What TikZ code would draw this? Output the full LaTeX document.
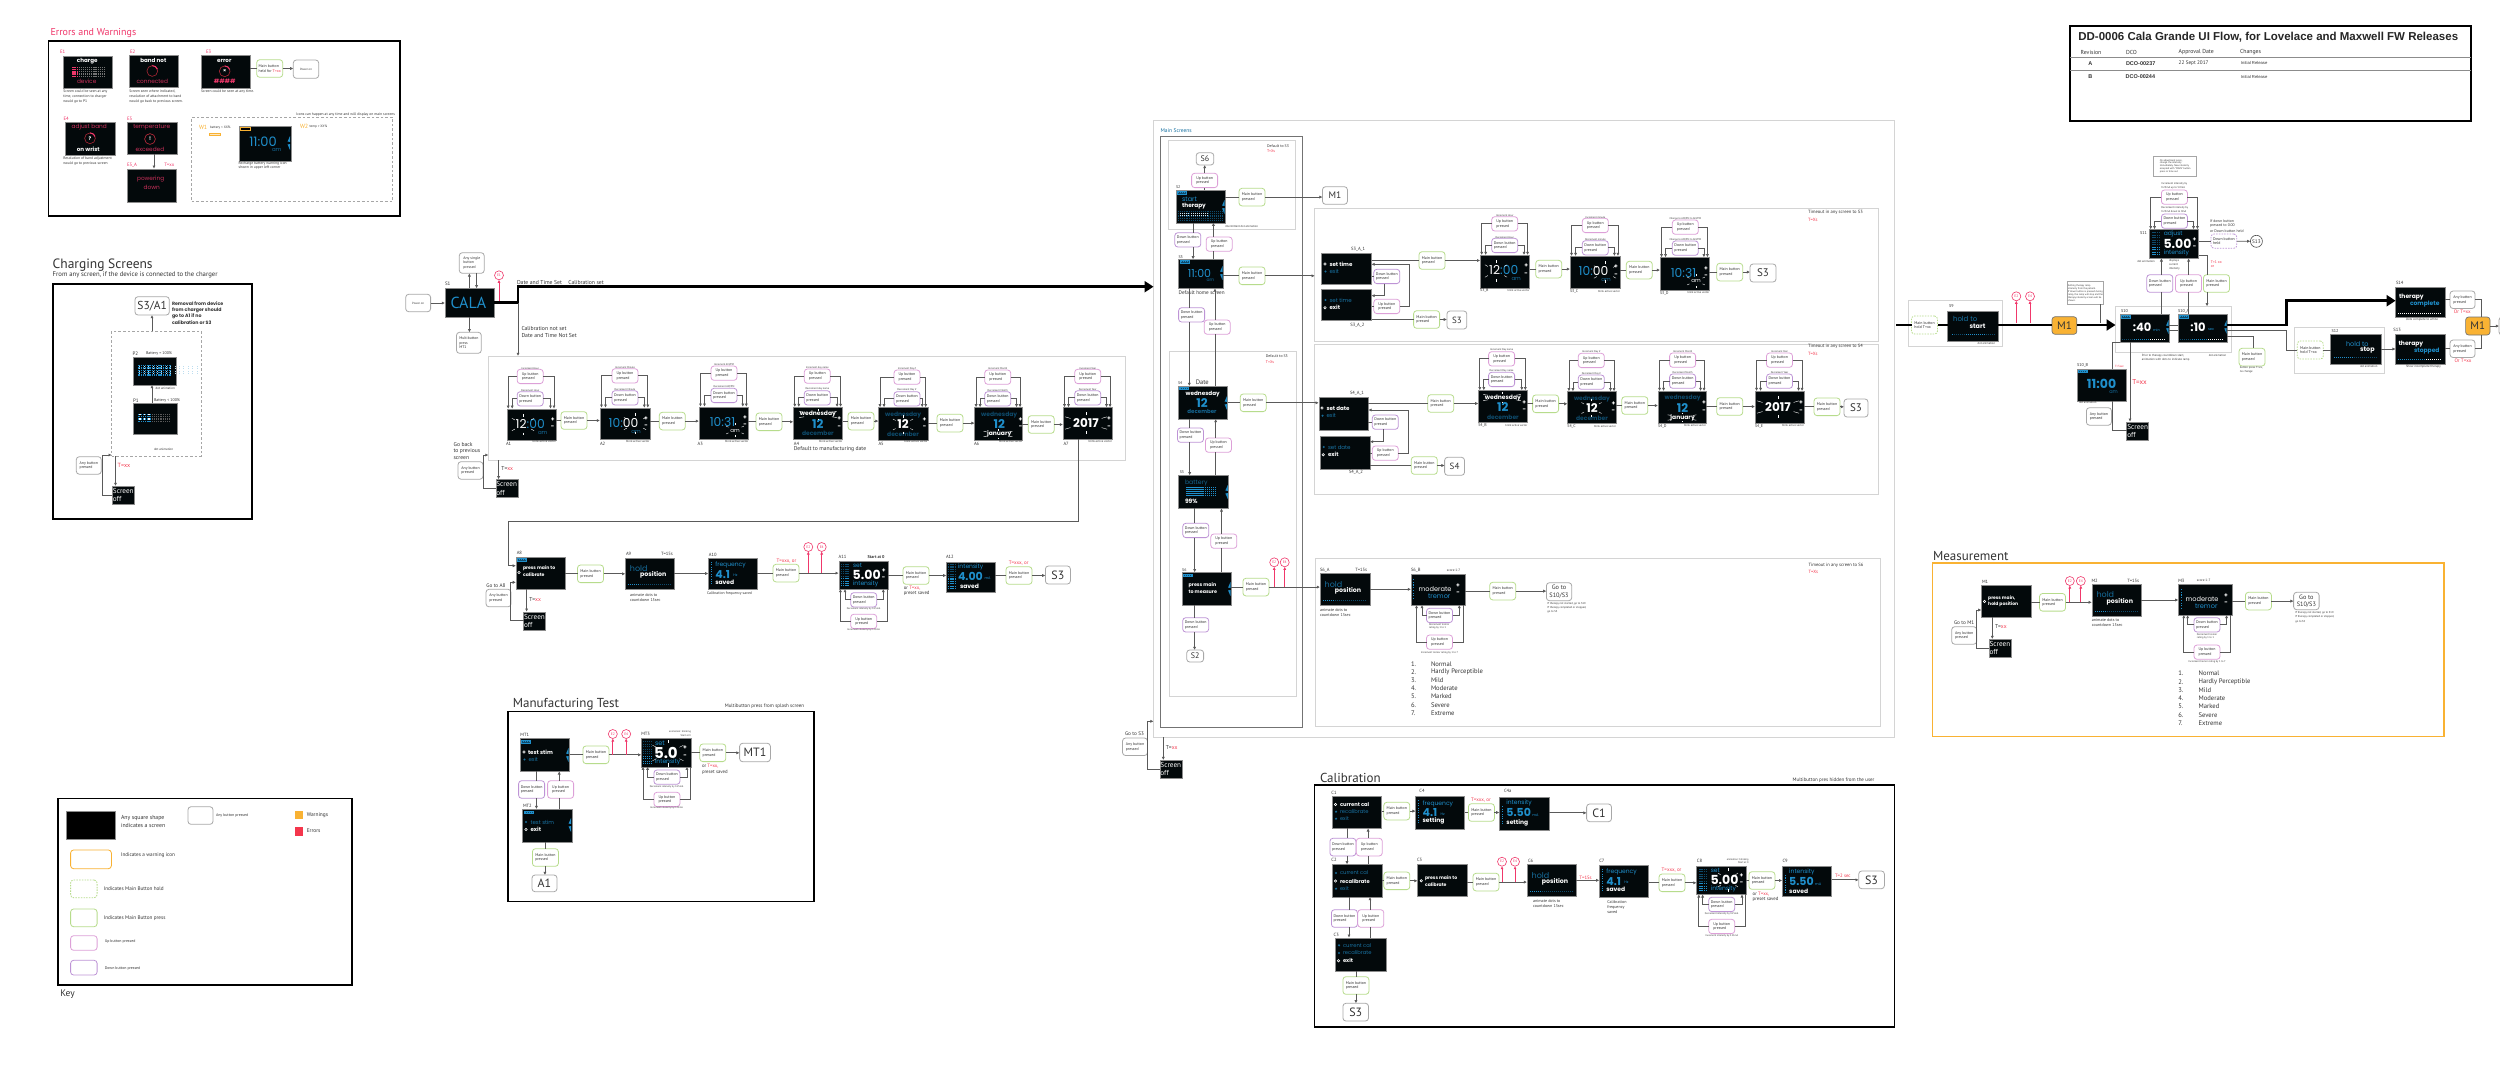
\documentclass[tikz,border=0pt]{standalone}
\usepackage{fontspec}
\setmainfont{PT Sans}
\newfontfamily\ppfam{Poppins}
\newfontfamily\arifam{Liberation Sans}
\usetikzlibrary{arrows.meta,calc}
\definecolor{cblue}{HTML}{1F8FCB}
\definecolor{cdim}{HTML}{0E4A6B}
\definecolor{cpink}{HTML}{F0386B}
\definecolor{cred}{HTML}{F4364C}
\definecolor{cgreen}{HTML}{B7DC8C}
\definecolor{cup}{HTML}{DDA0D8}
\definecolor{cdown}{HTML}{BE94D6}
\definecolor{cgrayb}{HTML}{A8A8A8}
\definecolor{corange}{HTML}{F9B233}
\definecolor{cscr}{HTML}{03090B}
\definecolor{ctext}{HTML}{333333}
\definecolor{cline}{HTML}{5A5A5A}
\newcounter{tn}
\newcommand\fsz[1]{\fontsize{#1}{#1}\selectfont\setlength\baselineskip{1.18\baselineskip}}
\tikzset{
 fs/.style={font={\fsz{#1}}},
 pp/.style={font={\ppfam\fsz{#1}}},
 ppb/.style={font={\ppfam\bfseries\fsz{#1}}},
 tx/.style={anchor=west,inner sep=0pt,outer sep=0pt,text=ctext,align=left},
 box/.style={inner sep=0pt,outer sep=0pt},
 scr/.style={box,draw=black!45,line width=.4,fill=cscr,text=white,align=left},
 btn/.style={box,rounded corners=3pt,fill=white,line width=.8,text=ctext,align=left,font={\fsz{3.9}}},
 mainb/.style={btn,draw=cgreen},
 holdb/.style={btn,draw=cgreen,dashed,dash pattern=on 1.5pt off 1.2pt},
 upb/.style={btn,draw=cup},
 dnb/.style={btn,draw=cdown},
 dnh/.style={btn,draw=cdown,dash pattern=on 1.5pt off 1.2pt},
 anyb/.style={btn,draw=cgrayb},
 gotob/.style={box,rounded corners=3pt,fill=white,draw=cgrayb,line width=.8,text=ctext,align=center},
 warnb/.style={box,rounded corners=3pt,fill=corange,draw=black!55,line width=.7,text=black!80,font={\fsz{11}}},
 ecirc/.style={circle,minimum size=9pt,box,draw=cpink,line width=.6,fill=white,text=cpink,font={\fsz{3.6}}},
 panel/.style={box,draw=black,line width=1.6},
 lbox/.style={box,draw=black!17,line width=.8},
 mbox/.style={box,draw=black!55,line width=.9},
 dbox/.style={box,draw=black!35,line width=.6,dash pattern=on 2.6pt off 2pt},
 note/.style={box,draw=black!35,line width=.5,fill=white,text=ctext,align=left,font={\fsz{2.5}}},
 conn/.style={draw=cline,line width=.75},
 ar/.style={-{Latex[length=3.2pt,width=3.2pt]},draw=cline},
 pk/.style={draw=cpink,line width=.7,-{Latex[length=3pt,width=3pt]}},
 tl/.style={draw=black,line width=2.7},
 tar/.style={-{Triangle[length=9pt,width=11pt]}},
}
\newcommand\Tx[4][]{\stepcounter{tn}\node[tx,#1] (t\arabic{tn}) at (#2,#3) {#4};}
\newcommand\NdW[7]{\node[#1,anchor=north west,minimum width=#5pt,minimum height=#6pt] (#2) at (#3,#4) {#7};}
\newcommand\Nd[7]{\pgfmathsetmacro\bw{#5-#3}\pgfmathsetmacro\bh{#6-#4}\NdW{#1}{#2}{#3}{#4}{\bw}{\bh}{#7}}
\newcommand\Sc[5]{\Nd{scr}{#1}{#2}{#3}{#4}{#5}{}}
\newcommand\MB[3]{\NdW{mainb}{#1}{#2}{#3}{26}{17.6}{Main button\\pressed}}
\newcommand\UB[3]{\NdW{upb}{#1}{#2}{#3}{26}{14.3}{Up button\\pressed}}
\newcommand\DB[3]{\NdW{dnb}{#1}{#2}{#3}{26}{14.3}{Down button\\pressed}}
\newcommand\UBt[3]{\NdW{upb}{#1}{#2}{#3}{26}{17.6}{Up button\\pressed}}
\newcommand\DBt[3]{\NdW{dnb}{#1}{#2}{#3}{26}{17.6}{Down button\\pressed}}
\newcommand\AB[3]{\NdW{anyb}{#1}{#2}{#3}{25}{17.5}{Any button\\pressed}}
\newcommand\GT[7]{\Nd{gotob,fs=#7}{#1}{#2}{#3}{#4}{#5}{#6}}
\newcommand\Off[3]{\NdW{scr,font={\fsz{7.2}}}{#1}{#2}{#3}{22}{18.3}{Screen\\off}}
\newcommand\EC[4]{\node[ecirc] (#1) at (#2,#3) {#4};}
\newcommand\Flow[3]{\draw[conn] (#1.east |- #2.west) -- (#2.west);\draw[conn,ar] (#2.east) -- (#3.west |- #2.east);}
\newcommand\Vd[3]{\draw[conn,ar] (#3,0 |- #1.south) -- (#3,0 |- #2.north);}
\newcommand\Vu[3]{\draw[conn,ar] (#3,0 |- #1.north) -- (#3,0 |- #2.south);}
\newcommand\VdB[4]{\draw[conn] (#4,0 |- #1.south) -- (#4,0 |- #2.north);\draw[conn,ar] (#4,0 |- #2.south) -- (#4,0 |- #3.north);}
\newcommand\VuB[4]{\draw[conn] (#4,0 |- #1.north) -- (#4,0 |- #2.south);\draw[conn,ar] (#4,0 |- #2.north) -- (#4,0 |- #3.south);}
\newcommand\UDAbove[3]{%
 \draw[conn,ar] (#2.west) -| ($(#1.north west)+(1.5,0)$);
 \draw[conn,ar] (#2.east) -| ($(#1.north east)+(-2,0)$);
 \draw[conn,ar] (#3.west) -| ($(#1.north west)+(5.5,0)$);
 \draw[conn,ar] (#3.east) -| ($(#1.north east)+(-5.5,0)$);}
\newcommand\UD[6]{\UB{#1U}{#2}{#3}\DB{#1D}{#2}{#4}\UDAbove{#1}{#1U}{#1D}%
 \Tx[fs=2.6,anchor=south]{#2+13}{#3-.2}{#5}\Tx[fs=2.6,anchor=south]{#2+13}{#4-.2}{#6}}
\newcommand\Below[7]{%
 \draw[conn,ar] (#3.west) -| (#4,0 |- #1.south);
 \draw[conn,ar] (#3.east) -| (#5,0 |- #1.south);
 \draw[conn,ar] (#2.west) -| (#6,0 |- #1.south);
 \draw[conn] (#2.east) -| (#7,0 |- #1.south);}
\newcommand\BackLoop[4]{\draw[conn,ar] (#1.west) -| (#2,#3) -- (#4.west |- #2,#3);}
\newcommand\DotGrid[8]{\foreach \i in {1,...,#3}{\foreach \j in {1,...,#4}{\fill[#7] ({#1+(\i-1)*#5},{#2+(\j-1)*#6}) rectangle ++(#8,#8);}}}
\newcommand\Blink[4]{\foreach \a in {35,90,145,215,270,325}{\draw[white,line width=.4] ({#1+#3*cos(\a)},{#2+#4*sin(\a)}) -- ({#1+1.35*#3*cos(\a)},{#2+1.35*#4*sin(\a)});}}
\newcommand\Bat[2]{\draw[cblue,fill=cdim,line width=.3] (#1,#2-1.2) rectangle (#1+9,#2+1.2);\DotGrid{#1+1}{#2-.5}{4}{1}{2}{1}{cblue}{1}}
\newcommand\Sel[2]{\draw[white,fill=cscr,line width=.6] (#1,#2) circle (1.2);}
\newcommand\Bld[2]{\fill[cblue!75!black] (#1,#2) circle (1.2);}
\newcommand\Wdg[2]{\fill[cblue] (#1,#2-1) -- (#1,#2-7) -- (#1-2.4,#2-1.5) -- cycle;\fill[cblue] (#1,#2+1) -- (#1,#2+7) -- (#1-2.4,#2+1.5) -- cycle;}
\newcommand\PM[2]{\Tx[ppb=6,anchor=center,text=white]{#1}{#2-4}{+}\Tx[ppb=6,anchor=center,text=white]{#1}{#2+4}{-}}
\newcommand\TimeC[4]{\Tx[pp=12.3,anchor=center,text=white]{#1+23.5}{#2+15.5}{#3}\Tx[pp=5.5,anchor=center,text=#4]{#1+36}{#2+24}{am}\PM{#1+46}{#2+15}}
\newcommand\DateC[7]{\Tx[ppb=6,anchor=center,text=#3]{#1+24.6}{#2+7.5}{#4}\Tx[ppb=12,anchor=center,text=#5]{#1+24.6}{#2+17}{12}\Tx[ppb=6,anchor=center,text=#6]{#1+24.6}{#2+26.5}{#7}\PM{#1+46}{#2+16}}
\newcommand\HoldBar[3]{\DotGrid{#1}{#2}{22}{1}{2}{1}{cdim}{1.1}\DotGrid{#1}{#2}{#3}{1}{2}{1}{cblue}{1.1}}
\newcommand\HoldC[2]{\Tx[pp=8,anchor=center,text=cdim!50!cblue]{#1+13.5}{#2+11}{hold}\Tx[ppb=6.3,anchor=center,text=white]{#1+28}{#2+17.6}{position}\HoldBar{#1+3}{#2+26.5}{6}}
\newcommand\FreqC[3]{\DotGrid{#1+2.5}{#2+4}{1}{10}{1}{2.4}{cblue}{1.1}\Tx[pp=6,text=cblue]{#1+7}{#2+7.3}{frequency}\Tx[ppb=11,text=cblue]{#1+7}{#2+16.6}{4.1}\Tx[pp=3.6,text=cblue]{#1+25}{#2+18}{Hz}\Tx[ppb=6,text=white]{#1+7}{#2+25}{#3}}
\newcommand\IntC[5]{\DotGrid{#1+2.5}{#2+9}{1}{8}{1}{2.4}{cblue}{1.1}\Tx[pp=6,text=cblue]{#1+#3}{#2+6}{intensity}\Tx[ppb=11,text=cblue]{#1+#3}{#2+15.5}{#4}\Tx[pp=3.6,text=cblue]{#1+#3+26}{#2+18}{mA}\Tx[ppb=6,text=white]{#1+#3}{#2+25.5}{#5}}
\newcommand\SetC[4]{\DotGrid{#1+2}{#2+3}{5}{10}{1.9}{2.4}{cdim}{1.1}\DotGrid{#1+2}{#2+17.4}{5}{4}{1.9}{2.4}{cblue}{1.1}\Tx[pp=6,text=cblue]{#1+14.3}{#2+4.5}{#4}\Tx[ppb=12.5,text=white]{#1+14}{#2+14.3}{#3}\Tx[pp=6,text=cblue]{#1+14.3}{#2+23.7}{intensity}\PM{#1+45}{#2+14}}
\newcommand\Lst[5]{\Tx[fs=6.6]{#1}{#3}{#4}\Tx[fs=6.6]{#2}{#3}{#5}}
\newcommand\Ring[2]{\draw[cred!70!black,line width=.6] (#1,#2) circle (5.4);\draw[cpink,line width=1] ({#1+5.4*cos(-20)},{#2+5.4*sin(-20)}) arc (-20:-90:5.4);}

\begin{document}
\begin{tikzpicture}[x=1pt,y=-1pt]
\useasboundingbox (0,0) rectangle (2500,1072);
\fill[white] (0,0) rectangle (2500,1072);

%% ============ Errors and warnings
\Tx[fs=10,text=cpink]{50.5}{33}{Errors and Warnings}
\Nd{panel}{pErr}{48.3}{41}{400}{216}{}
\Tx[fs=4.8,text=cpink]{60}{52}{E1}
\Sc{E1}{63.3}{55.7}{112.3}{88}
\Tx[ppb=5.6,anchor=center,text=white]{87.3}{61}{charge}
\DotGrid{72.3}{66.7}{16}{5}{2.1}{2.2}{black!55}{1.2}
\DotGrid{72.3}{66.7}{3}{5}{2.1}{2.2}{cpink}{1.5}
\Tx[pp=5.8,anchor=center,text=cpink!85!black]{86.7}{81.7}{device}
\Tx[fs=3.7]{63.3}{91.7}{Screen could be seen at any}
\Tx[fs=3.7]{63.3}{97}{time, connection to charger}
\Tx[fs=3.7]{63.3}{102}{would go to P1}

\Tx[fs=4.8,text=cpink]{130}{52}{E2}
\Sc{E2}{129.3}{54.7}{178.3}{87.3}
\Tx[ppb=5.6,anchor=center,text=white]{153.3}{60}{band not}
\Ring{152.3}{71}
\Tx[pp=5.8,anchor=center,text=cpink!85!black]{152.3}{81.3}{connected}
\Tx[fs=3.7]{129.3}{91}{Screen seen where indicated,}
\Tx[fs=3.7]{129.3}{96}{resolution of attachment to band}
\Tx[fs=3.7]{129.3}{101.3}{would go back to previous screen.}

\Tx[fs=4.8,text=cpink]{206}{52}{E3}
\Sc{E3}{201}{55}{250.3}{87.7}
\Tx[ppb=5.6,anchor=center,text=white]{224.3}{61.3}{error}
\Ring{224.7}{71.3}
\Tx[ppb=5,anchor=center,text=white]{224.7}{71.3}{×}
\Tx[ppb=6,anchor=center,text=cpink]{224.7}{81.3}{\#\#\#\#}
\Tx[fs=3.7]{201}{91.3}{Screen could be seen at any time.}
\NdW{mainb}{E3b}{256.7}{59.7}{26}{17.6}{Main button\\held for \textcolor{cred}{T=xx}}
\Nd{anyb,fs=3}{E3p}{293.3}{60}{318.7}{78.3}{Power on}
\Flow{E3}{E3b}{E3p}

\Tx[fs=4.8,text=cpink]{63.5}{119}{E4}
\Sc{E4}{65.3}{121.7}{114.7}{154.7}
\Tx[pp=5.8,anchor=center,text=cpink!85!black]{89.3}{127}{adjust band}
\Ring{90}{138.3}
\Tx[ppb=5,anchor=center,text=white]{90}{138.3}{?}
\Tx[ppb=5.6,anchor=center,text=white]{88.3}{149.3}{on wrist}
\Tx[fs=3.7]{63.3}{158.7}{Resolution of band adjustment}
\Tx[fs=3.7]{63.3}{163.7}{would go to previous screen}

\Tx[fs=4.8,text=cpink]{127}{119}{E5}
\Sc{E5}{127}{121.7}{176.7}{154.3}
\Tx[pp=5.8,anchor=center,text=cpink!85!black]{151.7}{127.3}{temperature}
\draw[cred!80!black,line width=.6] (150,139) circle (5.4);
\Tx[ppb=5,anchor=center,text=white]{150}{139}{!}
\Tx[pp=5.8,anchor=center,text=cpink!85!black]{150}{149}{exceeded}
\Tx[fs=4.8,text=cpink]{127}{165.3}{E5\_A}
\Tx[fs=4.8,text=cpink]{164.3}{165.3}{T=xx}
\Sc{E5A}{126.7}{168.7}{176.3}{201.7}
\Tx[pp=5.8,anchor=center,text=cpink!85!black]{150.7}{179.3}{powering}
\Tx[pp=5.8,anchor=center,text=cpink!85!black]{151.7}{187.3}{down}
\Vd{E5}{E5A}{154}

\Nd{dbox}{dW}{191.7}{117.3}{392.7}{201.3}{}
\Tx[fs=3.7,anchor=east]{395}{114.3}{Icons can happen at any time and will display on main screens}
\Tx[fs=6,text=corange]{199}{127.7}{W1}
\Tx[fs=3.4]{210}{127.7}{battery < XX\%}
\draw[corange,fill=corange!30,line width=.4] (209,132.7) rectangle (220,135.3);
\Sc{W}{238.7}{125.7}{290.7}{160.7}
\draw[corange,fill=black,line width=.5] (240.5,127.5) rectangle (250.5,130);
\Tx[pp=13,anchor=center,text=cblue]{263}{141.5}{11:00}
\Tx[pp=5.5,anchor=center,text=cdim!50!cblue]{276.7}{150}{am}
\Wdg{290}{143}
\Tx[fs=3.7]{238.7}{163.3}{Recharge battery warning icon}
\Tx[fs=3.7]{238.7}{168}{shown in upper left corner}
\Tx[fs=6,text=corange]{300}{126.7}{W2}
\Tx[fs=3.4]{309.5}{127}{temp > XX\%}

%% ============ Charging
\Tx[fs=13.5]{52.7}{265}{Charging Screens}
\Tx[fs=6.7]{52.7}{275.3}{From any screen, if the device is connected to the charger}
\Nd{panel}{pCh}{52.7}{284}{251.7}{518.7}{}
\GT{CHg}{135}{296.7}{169.3}{315}{S3/A1}{11.5}
\Tx[ppb=4.7]{172}{303.3}{Removal from device}
\Tx[ppb=4.7]{172}{310}{from charger should}
\Tx[ppb=4.7]{172}{316.3}{go to A1 if no}
\Tx[ppb=4.7]{172}{322.7}{calibration or S3}
\Nd{dbox}{dCh}{111.7}{331}{201}{456}{}
\Vu{dCh}{CHg}{152}
\Tx[fs=5]{132.7}{353.3}{P2}
\Tx[fs=4]{146}{353.7}{Battery = 100\%}
\Sc{P2}{132.7}{356.7}{175.7}{385}
\DotGrid{138.3}{365}{15}{5}{2.2}{2.3}{cblue}{1.4}
\DotGrid{139.4}{366}{14}{4}{4.4}{2.3}{white!70!cblue}{.8}
\Tx[fs=3.2]{155.7}{388}{dot animation}
\Tx[fs=5]{133}{400.3}{P1}
\Tx[fs=4]{154}{400.7}{Battery < 100\%}
\Sc{P1}{132.7}{403.3}{177}{434.3}
\DotGrid{138.3}{413.7}{15}{4}{2.2}{2.3}{black!65}{1.2}
\DotGrid{138.3}{413.7}{6}{4}{2.2}{2.3}{cblue}{1.4}
\DotGrid{139.4}{413.7}{3}{2}{4.4}{4.6}{white}{1.4}
\Vu{P1}{P2}{152}
\Tx[fs=3.2]{154}{449.7}{dot animation}
\AB{CHa}{76.3}{456.7}
\Off{CHo}{112.3}{486}
\Tx[fs=6,text=cred]{117.7}{465.3}{T=xx}
\draw[conn,ar] (115.5,0 |- dCh.south) -- (115.5,0 |- CHo.north);
\BackLoop{CHo}{102}{455}{dCh}

%% ============ Splash
\Nd{anyb,fs=3}{PO}{405.7}{294.3}{430.6}{311.7}{Power on}
\Tx[fs=5]{445}{284}{S1}
\Sc{S1}{445}{288.3}{494.3}{317.3}
\Tx[fs=16,anchor=center,text=cblue]{468.4}{303.3}{CALA}
\draw[conn,ar] (PO.east) -- (S1.west |- PO.east);
\Nd{anyb,font={\fsz{3.8}}}{Sany}{459.3}{252.7}{484.2}{273.3}{Any single\\button\\pressed}
\Nd{anyb,font={\fsz{3.8}}}{Smul}{456.5}{332.3}{481.3}{353.3}{Multibutton\\press\\MT1}
\Vu{S1}{Sany}{469.4}
\Vd{Sany}{S1}{476.6}
\Vd{S1}{Smul}{469.4}
\EC{SE1}{499}{275.3}{E1}
\draw[pk] (499,0 |- S1.east) -- (SE1.south);
\Nd{lbox}{bA}{488.5}{356}{1125.8}{460.3}{}
\Tx[fs=5.7]{517}{282}{Date and Time Set}
\Tx[fs=5.7]{568.4}{282.7}{Calibration set}
\Tx[fs=5.7]{521.5}{328.7}{Calibration not set}
\Tx[fs=5.7]{521.5}{335.7}{Date and Time Not Set}

%% A row
\Sc{A1}{506.7}{408.7}{556}{440.3}
\TimeC{506.7}{408.7}{\textcolor{white}{12}\textcolor{cblue}{:00}}{cdim!50!cblue}\Blink{523}{424.5}{10}{8}
\Sc{A2}{600}{407.7}{649.8}{439.3}
\TimeC{600}{407.7}{\textcolor{cblue}{10:}\textcolor{white}{00}}{cdim!50!cblue}\Blink{635}{423.5}{10}{8}
\Sc{A3}{699}{406.7}{748.3}{439.3}
\TimeC{699}{406.7}{\textcolor{cblue}{10:31}}{white}\Blink{735}{430}{8}{5}
\Sc{A4}{793.3}{407}{842.6}{439.3}
\DateC{793.3}{407}{white}{wednesday}{cblue}{cdim}{december}\Blink{818}{414.5}{17}{4}
\Sc{A5}{878.5}{407.3}{927.7}{439.7}
\DateC{878.5}{407.3}{cdim}{wednesday}{white}{cdim}{december}\Blink{903}{424.5}{9}{7}
\Sc{A6}{974.6}{407.3}{1022}{439.7}
\DateC{974.6}{407.3}{cdim}{wednesday}{cblue}{white}{january}\Blink{998}{434}{13}{3.5}
\Sc{A7}{1063}{407.3}{1112}{439.3}
\Tx[ppb=12,anchor=center,text=white]{1086}{423}{2017}\PM{1109}{423}\Blink{1086}{423}{19}{8}
\Tx[fs=4.6]{506}{444.3}{A1}\Tx[fs=4.6]{600}{444.3}{A2}\Tx[fs=4.6]{697.6}{444.3}{A3}\Tx[fs=4.6]{793.8}{444.3}{A4}\Tx[fs=4.6]{878.5}{444.3}{A5}\Tx[fs=4.6]{974}{444.3}{A6}\Tx[fs=4.6]{1063.5}{444.3}{A7}
\Tx[fs=3,anchor=east]{556}{441.7}{blink active vector}\Tx[fs=3,anchor=east]{649.5}{441.7}{blink active vector}\Tx[fs=3,anchor=east]{748.5}{441.7}{blink active vector}\Tx[fs=3,anchor=east]{842.5}{441.7}{blink active vector}\Tx[fs=3,anchor=east]{927.7}{441.7}{blink active vector}\Tx[fs=3,anchor=east]{1022.5}{441.7}{blink active vector}\Tx[fs=3,anchor=east]{1112}{441.7}{blink active vector}
\UD{A1}{517.2}{369.3}{391.7}{Increment Hour}{Decrement Hour}
\UD{A2}{612}{368.7}{390.7}{Increment Minute}{Decrement Minute}
\UD{A3}{711}{366}{388.3}{Increment AM/PM}{Decrement AM/PM}
\UD{A4}{804.3}{369}{390.7}{Increment day name}{Decrement day name}
\UD{A5}{894}{370}{391.7}{Increment Day \#}{Decrement Day \#}
\UD{A6}{984.7}{370}{391.7}{Increment Month}{Decrement Month}
\UD{A7}{1074.7}{369.3}{390.7}{Increment Year}{Decrement Year}
\MB{Ab1}{561}{411.7}\MB{Ab2}{659.3}{412.3}\MB{Ab3}{756}{413}\MB{Ab4}{848}{412.3}\MB{Ab5}{937}{414.3}\MB{Ab6}{1028.2}{415.7}
\Flow{A1}{Ab1}{A2}\Flow{A2}{Ab2}{A3}\Flow{A3}{Ab3}{A4}\Flow{A4}{Ab4}{A5}\Flow{A5}{Ab5}{A6}\Flow{A6}{Ab6}{A7}
\Tx[fs=5.6]{793.8}{448.7}{Default to manufacturing date}
\Tx[fs=5.6]{453.6}{444.3}{Go back}\Tx[fs=5.6]{453.6}{451.3}{to previous}\Tx[fs=5.6]{453.6}{458.3}{screen}
\AB{Aa}{458}{461.7}
\Tx[fs=5.6]{501.4}{468.3}{T=\textcolor{cred}{xx}}
\Off{Ao}{495.7}{479.3}
\draw[conn,ar] (498.6,0 |- bA.south) -- (498.6,0 |- Ao.north);
\BackLoop{Ao}{483.7}{455}{bA}

%% A8 row
\Tx[fs=4.6]{516.8}{553.3}{A8}
\Sc{A8}{515.9}{557.3}{565.4}{588.7}
\Bat{517.5}{576.5-17}\Sel{519}{572.5}
\Tx[ppb=4.6,text=white]{523}{568.7}{press main to}\Tx[ppb=4.6,text=white]{523}{574.7}{calibrate}
\draw[conn,ar] (A7.south -| 1078,0) -- (1078,521.3) -- (507.9,521.3) |- (A8.west |- 0,565.7);
\MB{A8b}{577.5}{565}
\Tx[fs=4.6]{626}{554}{A9}\Tx[fs=4.6]{661}{554}{T=15s}
\Sc{A9}{625.3}{557.7}{674.4}{589.3}\HoldC{625.3}{557.7}
\Flow{A8}{A8b}{A9}
\Tx[fs=4.1]{630}{594.7}{animate dots to}\Tx[fs=4.1]{630}{600}{countdown 15sec}
\Tx[fs=4.6]{708.8}{554.7}{A10}
\Sc{A10}{708.3}{557.7}{757.4}{589.3}\FreqC{708.3}{557.7}{saved}
\draw[conn,ar] (A9.east) -- (A10.west);
\Tx[fs=3.8]{707}{593.3}{Calibration frequency saved}
\Tx[fs=5,text=cred]{776.6}{560.7}{T=xxx, or}
\MB{A10b}{773}{564.3}
\draw[conn] (A10.east |- A10b.west) -- (A10b.west);
\Tx[fs=4.6]{838.7}{556.7}{A11}\Tx[fs=4.2,font={\bfseries\fsz{4.2}}]{867.7}{557}{Start at 0}
\Sc{A11}{838.7}{560.7}{887.8}{589}\SetC{838.7}{560.7}{5.00}{set}
\draw[conn,ar] (A10b.east) -- (A11.west |- A10b.east);
\EC{A10e2}{808.3}{547}{E2}\EC{A10e4}{821.7}{547}{E4}
\draw[pk] (808.3,0 |- A10b.east) -- (A10e2.south);\draw[pk] (821.7,0 |- A10b.east) -- (A10e4.south);
\DB{A11d}{850.7}{592.7}\UB{A11u}{850.7}{614.3}
\Below{A11}{A11u}{A11d}{845}{883.3}{840.4}{887.8}
\Tx[fs=2.5,anchor=center]{863.5}{608.7}{Decrement intensity by 0.25mA}
\Tx[fs=2.5,anchor=center]{863.5}{630.3}{Increment intensity by 0.25mA}
\MB{A11b}{903}{566.7}
\Tx[fs=4.8]{903.8}{587.7}{or \textcolor{cred}{T=xx,}}\Tx[fs=4.8]{903.8}{593.7}{preset saved}
\Tx[fs=4.6]{946}{557.3}{A12}
\Sc{A12}{946.3}{561.7}{995.4}{591.7}
\DotGrid{947.6}{564}{5}{11}{1.9}{2.4}{cdim}{1.1}\DotGrid{947.6}{578.4}{5}{5}{1.9}{2.4}{cblue}{1.1}
\Tx[pp=6,text=cblue]{958}{566.7}{intensity}\Tx[ppb=11,text=cblue]{958}{576}{4.00}\Tx[pp=3.6,text=cblue]{984.5}{578}{mA}\Tx[ppb=6,text=white]{960}{586}{saved}
\Flow{A11}{A11b}{A12}
\Tx[fs=5,text=cred]{1008.8}{562.7}{T=xxx, or}
\MB{A12b}{1006}{566.7}
\GT{A12g}{1045.4}{566}{1070.4}{584}{S3}{12}
\Flow{A12}{A12b}{A12g}
\Tx[fs=5.2]{486.4}{585.7}{Go to A8}
\AB{A8a}{486}{589.3}
\Tx[fs=5.6]{529.3}{599.3}{T=\textcolor{cred}{xx}}
\Off{A8o}{523.5}{611.7}
\Vd{A8}{A8o}{526.6}
\BackLoop{A8o}{510.5}{582.3}{A8}

%% ============ Manufacturing test
\Tx[fs=13]{512.8}{704}{Manufacturing Test}
\Tx[fs=5]{724.8}{706.3}{Multibutton press from splash screen}
\Nd{panel}{pMT}{507.9}{711.3}{814}{901.3}{}
\Tx[fs=4.6]{520.4}{735.3}{MT1}
\Sc{MT1}{520}{738.3}{569.5}{771.3}
\Bat{521.5}{741.5}\Sel{524}{752}\Tx[ppb=5.5,text=white]{528}{752.3}{test stim}\Bld{524.5}{759.5}\Tx[pp=5.5,text=cblue!80!black]{528.5}{759.5}{exit}\Wdg{568.5}{755}
\MB{MT1b}{582.9}{746}
\Tx[fs=4.6]{641.3}{734}{MT3}
\Tx[fs=2.6,anchor=east]{690.9}{732}{animation: blinking}\Tx[fs=2.6,anchor=east]{690.9}{736}{Start at 0}
\Sc{MT3}{641.3}{738.3}{690.9}{766.7}\DotGrid{643.3}{741.3}{5}{10}{1.9}{2.4}{cdim}{1.1}\DotGrid{643.3}{755.7}{5}{4}{1.9}{2.4}{cblue}{1.1}
\Tx[pp=6.5,text=cblue]{655}{743}{set}\Tx[ppb=15,text=white]{654}{753}{5.0}\Tx[pp=6,text=cblue]{655}{762}{intensity}\PM{685}{752}\Blink{668}{753}{14}{10}
\Flow{MT1}{MT1b}{MT3}
\EC{MTe2}{612.8}{734}{E2}\EC{MTe4}{626.2}{734}{E4}
\draw[pk] (612.8,0 |- MT1b.east) -- (MTe2.south);\draw[pk] (626.2,0 |- MT1b.east) -- (MTe4.south);
\MB{MT3b}{699.8}{744}
\GT{MT1g}{739.6}{743.3}{770.4}{761.7}{MT1}{12}
\Flow{MT3}{MT3b}{MT1g}
\Tx[fs=4.8]{702}{766.3}{or \textcolor{cred}{T=xx,}}\Tx[fs=4.8]{702}{772.3}{preset saved}
\DB{MT3d}{653.9}{770}\UB{MT3u}{653.9}{792.3}
\Below{MT3}{MT3u}{MT3d}{647.6}{686.9}{643.1}{690}
\Tx[fs=2.5,anchor=center]{666.5}{786.7}{Decrement intensity by 0.25mA}
\Tx[fs=2.5,anchor=center]{666.5}{808.3}{Increment intensity by 0.25mA}
\DBt{MTd}{518.6}{780.7}\UBt{MTu}{547.6}{780.7}
\Tx[fs=4.6]{523}{806}{MT2}
\Sc{MT2}{522.6}{809}{572}{841.7}
\Bat{524}{812}\Bld{526}{822}\Tx[pp=5.5,text=cblue!80!black]{530.5}{822}{test stim}\Sel{526}{829.5}\Tx[ppb=5.5,text=white]{530.5}{829.5}{exit}\Wdg{571}{825}
\VdB{MT1}{MTd}{MT2}{536.4}
\VuB{MT2}{MTu}{MT1}{559.2}
\MB{MT2b}{532.4}{848.7}
\GT{A1g}{532}{875}{557}{891.7}{A1}{12}
\VdB{MT2}{MT2b}{A1g}{544.9}

%% ============ Main screens
\Nd{lbox}{MS}{1153.5}{120}{1894.6}{737}{}
\draw[tl,tar] (S1.east) -| (518,286.7) -- (MS.west |- 518,286.7);
\draw[conn,ar] (518,0 |- S1.east) -- (518,0 |- bA.north);
\Tx[fs=5.5,text=cblue!80!black]{1160.6}{130.3}{Main Screens}
\Nd{mbox}{MC}{1160.6}{136}{1302.2}{727}{}
\Nd{lbox}{Bs2}{1168.3}{140.7}{1295.7}{229.3}{}
\Tx[fs=3.9]{1267}{145.7}{Default to S3}\Tx[fs=3.9,text=cred]{1267}{151}{T=Xs}
\GT{S6g}{1196.2}{152.7}{1213.8}{165}{S6}{8}
\UB{S2u}{1191.6}{173.3}
\Tx[fs=4]{1176}{187.3}{S2}
\Sc{S2}{1176}{190}{1225.3}{222.7}\Bat{1177}{192.5}
\Tx[pp=6.5,text=cblue]{1182}{199.5}{start}\Tx[ppb=5.8,text=white]{1182}{206.3}{therapy}\Wdg{1224.5}{207}
\DotGrid{1178}{211}{22}{5}{2.1}{2.2}{cdim}{1.1}\DotGrid{1180}{213}{14}{2}{2.1}{2.2}{white!80!cblue}{.9}
\VuB{S2}{S2u}{S6g}{1204.7}
\MB{S2b}{1239}{188.3}
\GT{M1g}{1322.5}{186.7}{1347.4}{204.3}{M1}{9.5}
\Flow{S2}{S2b}{M1g}
\Tx[fs=2.9]{1225}{226}{intermittent dot animation}
\DB{S2d}{1174.8}{232.7}\UB{S3u}{1206.2}{237}
\Tx[fs=4]{1178.6}{256.7}{S3}
\Sc{S3}{1178.6}{259.3}{1223}{288.3}\Bat{1180}{261.5}
\Tx[pp=11,anchor=center,text=cblue]{1199.5}{273.5}{11:00}\Tx[pp=4.5,anchor=center,text=cdim!50!cblue]{1210.5}{280.5}{am}\Wdg{1222.5}{273}
\VdB{S2}{S2d}{S3}{1193.1}
\VuB{S3}{S3u}{S2}{1213.4}
\Tx[fs=5.2]{1178.6}{292.3}{Default home screen}
\MB{S3b}{1239}{267}
\Nd{lbox}{Bs3}{1314.8}{208.3}{1878}{341}{}
\draw[conn] (S3.east |- S3b.west) -- (S3b.west);
\draw[conn,ar] (S3b.east) -- (Bs3.west |- S3b.east);
\DB{S3d}{1178.6}{307.7}\UB{S4u}{1204.2}{320}
\Nd{lbox}{Bs4}{1169.4}{351.7}{1296.6}{696.7}{}
\Tx[fs=3.9]{1265.9}{356.3}{Default to S3}\Tx[fs=3.9,text=cred]{1265.9}{361.7}{T=Xs}
\Tx[fs=4]{1178}{383.3}{S4}\Tx[fs=6.5]{1195.8}{382.3}{Date}
\Sc{S4}{1177.8}{386}{1227.6}{419}\Bat{1179}{388.3}
\Tx[ppb=5.7,anchor=center,text=white]{1202.7}{394}{wednesday}\Tx[ppb=12,anchor=center,text=cblue]{1202}{403.5}{12}\Tx[ppb=5.5,anchor=center,text=cdim!60!cblue]{1202}{411.5}{december}\Wdg{1227}{403}
\VdB{S3}{S3d}{S4}{1189.3}
\VuB{S4}{S4u}{S3}{1215}
\MB{S4b}{1240.2}{394}
\DB{S4d}{1177.5}{428}\UB{S5u}{1205.4}{438}
\Tx[fs=4]{1179.8}{472.3}{S5}
\Sc{S5}{1178.6}{475.3}{1228.4}{508.3}
\Tx[pp=6.2,text=cdim!60!cblue]{1185}{482.5}{battery}
\DotGrid{1185.5}{486.5}{16}{5}{1.95}{2}{cblue}{1.4}
\Tx[ppb=6,text=white]{1185}{501.3}{99\%}\Wdg{1227.8}{492}
\VdB{S4}{S4d}{S5}{1189.7}
\VuB{S5}{S5u}{S4}{1215.7}
\DB{S5d}{1182.8}{523.3}\UB{S6u}{1210.8}{534}
\Tx[fs=4]{1182.2}{569.7}{S6}
\Sc{S6}{1182.2}{572.3}{1231}{605.3}\Bat{1183.5}{575}
\Tx[ppb=4.8,text=white]{1188.7}{585.7}{press main}\Tx[ppb=4.8,text=white]{1188.7}{592.3}{to measure}\Wdg{1230.5}{589}
\VdB{S5}{S5d}{S6}{1194.7}
\VuB{S6}{S6u}{S5}{1221.5}
\MB{S6b}{1242.9}{578.3}
\DB{S6d}{1182.7}{617.7}
\GT{S2g}{1186.7}{650}{1203.6}{662}{S2}{8}
\VdB{S6}{S6d}{S2g}{1194.6}

%% S3 block
\Tx[fs=4.6]{1351.2}{249}{S3\_A\_1}
\Sc{S3A1}{1321.4}{253}{1371.5}{284.3}
\Sel{1325}{264}\Tx[ppb=5.5,text=white]{1329.5}{264}{set time}\Bld{1325.5}{271.5}\Tx[pp=5.5,text=cblue!80!black]{1329.5}{271.5}{exit}
\Sc{S3A2}{1321.4}{289}{1371.5}{320}
\Bld{1325.5}{300}\Tx[pp=5.5,text=cblue!80!black]{1329.5}{300}{set time}\Sel{1325}{307.7}\Tx[ppb=5.5,text=white]{1329.5}{307.7}{exit}
\Tx[fs=4.6]{1350.4}{325}{S3\_A\_2}
\DB{S3Ad}{1373.8}{269.3}\UB{S3Au}{1373.8}{299.3}
\draw[conn] (S3A1.east |- S3Ad.west) -- (S3Ad.west);
\draw[conn,ar] (1384.5,0 |- S3Ad.south) -- (1384.5,295.7) -- (S3A2.east |- 1384.5,295.7);
\draw[conn] (S3A2.east |- S3Au.west) -- (S3Au.west);
\draw[conn,ar] (S3Au.east) -| (1409.4,264.3) -- (S3A1.east |- 1409.4,264.3);
\MB{S3Ab}{1419}{251.7}
\MB{S3Ac}{1413.6}{310.7}
\GT{S3g1}{1446.9}{311}{1466.8}{329}{S3}{9}
\Flow{S3A2}{S3Ac}{S3g1}
\Sc{S3B}{1480.2}{255}{1529.5}{287.7}\TimeC{1480.2}{255}{\textcolor{white}{12}\textcolor{cblue}{:00}}{cdim!50!cblue}\Blink{1496}{271}{10}{8}
\Sc{S3C}{1570}{256}{1619.9}{288.3}\TimeC{1570}{256}{\textcolor{cblue}{10:}\textcolor{white}{00}}{cdim!50!cblue}\Blink{1605}{272}{10}{8}
\Sc{S3D}{1660}{257.3}{1709.4}{290}\TimeC{1660}{257.3}{\textcolor{cblue}{10:31}}{white}\Blink{1696}{281}{8}{5}
\Flow{S3A1}{S3Ab}{S3B}
\UD{S3B}{1491.7}{216.7}{238.3}{Increment Hour}{Decrement Hour}
\UD{S3C}{1582.3}{218.3}{240.7}{Increment minute}{Decrement minute}
\UD{S3D}{1672.3}{220}{241}{Change to AM/PM to AM/PM}{Change to AM/PM to AM/PM}
\Tx[fs=4]{1480.2}{290.5}{S3\_B}\Tx[fs=4]{1570}{291.3}{S3\_C}\Tx[fs=4]{1660}{293}{S3\_D}
\Tx[fs=2.8,anchor=east]{1529.5}{290.5}{blink active vector}\Tx[fs=2.8,anchor=east]{1620}{291.3}{blink active vector}\Tx[fs=2.8,anchor=east]{1709.4}{293}{blink active vector}
\MB{S3x1}{1535.7}{260.3}\MB{S3x2}{1626.3}{261.3}\MB{S3x3}{1716.7}{263.3}
\GT{S3g2}{1750}{264}{1776}{282}{S3}{11}
\Flow{S3B}{S3x1}{S3C}\Flow{S3C}{S3x2}{S3D}\Flow{S3D}{S3x3}{S3g2}
\Tx[fs=4.6]{1808}{212}{Timeout in any screen to S3}\Tx[fs=4.6,text=cred]{1808}{219.5}{T=Xs}

%% S4 block
\Nd{lbox}{Bs4b}{1314.8}{344}{1878}{494}{}
\draw[conn] (S4.east |- S4b.west) -- (S4b.west);
\Tx[fs=4.6]{1350}{393.3}{S4\_A\_1}
\Sc{S4A1}{1318.7}{396.7}{1368.4}{430}
\draw[conn,ar] (S4b.east) -- (S4A1.west |- S4b.east);
\Sel{1322}{408}\Tx[ppb=5.5,text=white]{1326.5}{408}{set date}\Bld{1322.5}{415.7}\Tx[pp=5.5,text=cblue!80!black]{1326.5}{415.7}{exit}
\Sc{S4A2}{1320.2}{436}{1370}{469}
\Bld{1323.7}{447}\Tx[pp=5.5,text=cblue!80!black]{1328}{447}{set date}\Sel{1323.2}{454.7}\Tx[ppb=5.5,text=white]{1328}{454.7}{exit}
\Tx[fs=4.6]{1349}{472.3}{S4\_A\_2}
\DB{S4Ad}{1372.3}{415}\UB{S4Au}{1372.3}{446}
\draw[conn] (S4A1.east |- S4Ad.west) -- (S4Ad.west);
\draw[conn,ar] (1383.3,0 |- S4Ad.south) -- (1383.3,441.7) -- (S4A2.east |- 1383.3,441.7);
\draw[conn] (S4A2.east |- S4Au.west) -- (S4Au.west);
\draw[conn,ar] (S4Au.east) -| (1408.2,410) -- (S4A1.east |- 1408.2,410);
\MB{S4Ab}{1427.7}{394.7}
\MB{S4Ac}{1411.3}{456.7}
\GT{S4g1}{1444.6}{457.3}{1464.5}{475.3}{S4}{9}
\Flow{S4A2}{S4Ac}{S4g1}
\Sc{S4B}{1478.3}{390.3}{1527.3}{422.3}\DateC{1478.3}{390.3}{white}{wednesday}{cblue}{cdim}{december}\Blink{1502}{397.5}{17}{4}
\Sc{S4C}{1567.4}{391.3}{1616}{423.3}\DateC{1567.4}{391.3}{cdim}{wednesday}{white}{cdim}{december}\Blink{1591.5}{408}{9}{7}
\Sc{S4D}{1658}{391}{1706}{423.3}\DateC{1658}{391}{cdim}{wednesday}{cblue}{white}{january}\Blink{1682}{417.5}{13}{3.5}
\Sc{S4E}{1755}{391}{1804}{423.3}
\Tx[ppb=12,anchor=center,text=white]{1778}{407}{2017}\PM{1801}{407}\Blink{1778}{407}{19}{8}
\Flow{S4A1}{S4Ab}{S4B}
\UD{S4B}{1488.6}{351.7}{372.3}{Increment Day name}{Decrement Day name}
\UD{S4C}{1578.3}{353.3}{375}{Increment Day \#}{Decrement Day \#}
\UD{S4D}{1669.6}{353}{374}{Increment Month}{Decrement Month}
\UD{S4E}{1766.5}{353}{374}{Increment Year}{Decrement Year}
\Tx[fs=4]{1478.3}{425.7}{S4\_B}\Tx[fs=4]{1567.4}{426.7}{S4\_C}\Tx[fs=4]{1658}{426}{S4\_D}\Tx[fs=4]{1755}{426}{S4\_E}
\Tx[fs=2.8,anchor=east]{1527.3}{425.7}{blink active vector}\Tx[fs=2.8,anchor=east]{1616}{426.7}{blink active vector}\Tx[fs=2.8,anchor=east]{1706}{426}{blink active vector}\Tx[fs=2.8,anchor=east]{1804}{426}{blink active vector}
\MB{S4x1}{1532.6}{395}\MB{S4x2}{1621.8}{396.7}\MB{S4x3}{1716.7}{397.7}\MB{S4x4}{1814}{398}
\GT{S3g3}{1844}{399}{1868}{417}{S3}{11}
\Flow{S4B}{S4x1}{S4C}\Flow{S4C}{S4x2}{S4D}\Flow{S4D}{S4x3}{S4E}\Flow{S4E}{S4x4}{S3g3}
\Tx[fs=4.6]{1808}{346}{Timeout in any screen to S4}\Tx[fs=4.6,text=cred]{1808}{353.5}{T=Xs}

%% S6 block
\Nd{lbox}{Bs6}{1315.5}{558.3}{1880.2}{726.7}{}
\Tx[fs=4.6]{1808.5}{565.3}{Timeout in any screen to S6}\Tx[fs=4.6,text=cred]{1808.5}{572.3}{T=Xs}
\Tx[fs=4.6]{1320}{570}{S6\_A}\Tx[fs=4.6]{1355.3}{570}{T=15s}
\Sc{S6A}{1320}{573.3}{1369.8}{605.3}\HoldC{1320}{573.3}
\Flow{S6}{S6b}{S6A}
\EC{S6e2}{1274.2}{562.3}{E2}\EC{S6e4}{1284.7}{562.3}{E4}
\draw[pk] (1274.2,0 |- S6b.east) -- (S6e2.south);\draw[pk] (1284.7,0 |- S6b.east) -- (S6e4.south);
\Tx[fs=4.1]{1320}{609.7}{animate dots to}\Tx[fs=4.1]{1320}{615.3}{countdown 15sec}
\Tx[fs=4.6]{1411}{570}{S6\_B}\Tx[fs=3.4]{1446.9}{570}{score 1-7}
\Sc{S6B}{1411}{574}{1464.8}{605}
\DotGrid{1413}{579}{1}{8}{1}{2.7}{cblue}{1.1}
\Tx[pp=6.6,text=white]{1418.5}{589}{moderate}\Tx[pp=6.6,text=cblue]{1428}{596.3}{tremor}\PM{1458}{589.5}
\draw[conn,ar] (S6A.east) -- (S6B.west |- S6A.east);
\MB{S6Bb}{1489.7}{582.3}
\GT{S6g2}{1546.4}{582.7}{1571.7}{600.7}{Go to\\S10/S3}{6.3}
\Flow{S6B}{S6Bb}{S6g2}
\Tx[fs=2.8]{1547.4}{603.3}{If therapy not started, go to S10}\Tx[fs=2.8]{1547.4}{607.7}{If therapy completed or stopped,}\Tx[fs=2.8]{1547.4}{611.7}{go to S3}
\DB{S6Bd}{1426.5}{608.3}\UB{S6Bu}{1426.5}{635}
\Below{S6B}{S6Bu}{S6Bd}{1422}{1459.3}{1416.5}{1463.3}
\Tx[fs=2.6]{1429}{624.7}{Decrement tremor}\Tx[fs=2.6]{1429}{628}{rating by 1 to 1}
\Tx[fs=2.6,anchor=center]{1439.5}{652.7}{Increment tremor rating by 1 to 7}
\Lst{1411}{1431}{663.7}{1.}{Normal}\Lst{1411}{1431}{672}{2.}{Hardly Perceptible}\Lst{1411}{1431}{680}{3.}{Mild}\Lst{1411}{1431}{688.3}{4.}{Moderate}\Lst{1411}{1431}{696.7}{5.}{Marked}\Lst{1411}{1431}{704.7}{6.}{Severe}\Lst{1411}{1431}{713}{7.}{Extreme}
\Tx[fs=5.2]{1125}{733.7}{Go to S3}
\AB{MSa}{1122.5}{738}
\Tx[fs=5.6]{1165.8}{747.3}{T=\textcolor{cred}{xx}}
\Off{MSo}{1159.8}{760}
\draw[conn,ar] (1163.3,0 |- MS.south) -- (1163.3,0 |- MSo.north);
\BackLoop{MSo}{1147.4}{721.3}{MS}

%% ============ Calibration
\Tx[fs=13]{1320}{778.3}{Calibration}
\Tx[fs=5]{1792.6}{780.3}{Multibutton pres hidden from the user}
\Nd{panel}{pC}{1314.5}{784.7}{1894.3}{1027}{}
\Tx[fs=4.6]{1331.4}{792.7}{C1}
\Sc{C1}{1332}{795.7}{1381.5}{828.3}
\Sel{1335.5}{804.5}\Tx[ppb=5.2,text=white]{1340}{804.5}{current cal}\Bld{1336}{811.7}\Tx[pp=5.2,text=cblue!80!black]{1340}{811.7}{recalibrate}\Bld{1336}{818.7}\Tx[pp=5.2,text=cblue!80!black]{1340}{818.7}{exit}
\MB{C1b}{1383.8}{802.3}
\Tx[fs=4.6]{1419.4}{790.7}{C4}
\Sc{C4}{1415.6}{796.3}{1464.6}{829.3}\FreqC{1415.6}{796.3}{setting}
\Flow{C1}{C1b}{C4}
\Tx[fs=5,text=cred]{1471}{800.3}{T=xxx, or}
\MB{C4b}{1468.4}{803.7}
\Tx[fs=4.6]{1504}{791}{C4a}
\Sc{C4a}{1499.4}{797.3}{1548.8}{830.3}\IntC{1499.4}{797.3}{7}{5.50}{setting}
\Flow{C4}{C4b}{C4a}
\GT{C1g}{1586.6}{804}{1611.5}{821.7}{C1}{12}
\draw[conn,ar] (C4a.east |- C1g.west) -- (C1g.west);
\DBt{C1d}{1329.9}{838.3}\UBt{C1u}{1356.3}{838.3}
\Tx[fs=4.6]{1331.4}{860.3}{C2}
\Sc{C2}{1332.5}{864.3}{1382.3}{897}
\Bld{1336}{873}\Tx[pp=5.2,text=cblue!80!black]{1340}{873}{current cal}\Sel{1335.5}{881}\Tx[ppb=5.2,text=white]{1340}{881}{recalibrate}\Bld{1336}{888.7}\Tx[pp=5.2,text=cblue!80!black]{1340}{888.7}{exit}
\VdB{C1}{C1d}{C2}{1347}
\VuB{C2}{C1u}{C1}{1368.1}
\MB{C2b}{1383.8}{872}
\Tx[fs=4.6]{1417}{860.3}{C5}
\Sc{C5}{1417.5}{864.3}{1467.2}{896.3}
\Sel{1421.3}{880.7}\Tx[ppb=4.6,text=white]{1425}{878}{press main to}\Tx[ppb=4.6,text=white]{1425}{884.3}{calibrate}
\Flow{C2}{C2b}{C5}
\MB{C5b}{1473}{873.3}
\draw[conn] (C5.east |- C5b.west) -- (C5b.west);
\Tx[fs=4.6]{1528}{860.7}{C6}
\Sc{C6}{1527}{864.3}{1576.3}{896.3}\HoldC{1527}{864.3}
\draw[conn,ar] (C5b.east) -- (C6.west |- C5b.east);
\EC{Ce2}{1502}{861.7}{E2}\EC{Ce4}{1515}{861.7}{E4}
\draw[pk] (1502,0 |- C5b.east) -- (Ce2.south);\draw[pk] (1515,0 |- C5b.east) -- (Ce4.south);
\Tx[fs=4.1]{1533}{901}{animate dots to}\Tx[fs=4.1]{1533}{906.3}{countdown 15sec}
\Tx[fs=4.6]{1599.3}{861.3}{C7}
\Sc{C7}{1599.3}{864.7}{1648.6}{897.3}\FreqC{1599.3}{864.7}{saved}
\draw[conn,ar] (C6.east) -- (C7.west |- C6.east);
\Tx[fs=4.8,text=cred]{1579.4}{878.2}{T=15s}
\Tx[fs=4.1]{1607.3}{901.7}{Calibration}\Tx[fs=4.1]{1607.3}{907}{frequency}\Tx[fs=4.1]{1607.3}{912.3}{saved}
\Tx[fs=5,text=cred]{1661.7}{869.7}{T=xxx, or}
\MB{C7b}{1659}{874}
\Tx[fs=4.6]{1696.9}{861.3}{C8}
\Tx[fs=2.6,anchor=east]{1748.5}{859.7}{animation: blinking}\Tx[fs=2.6,anchor=east]{1748.5}{863}{Start at 0}
\Sc{C8}{1696.5}{865.7}{1745.8}{894.3}\SetC{1696.5}{865.7}{5.00}{set}\Blink{1728}{880}{9}{9}
\Flow{C7}{C7b}{C8}
\DB{C8d}{1708.7}{897.3}\UB{C8u}{1708.7}{919.3}
\Below{C8}{C8u}{C8d}{1702.6}{1742}{1698.8}{1745.8}
\Tx[fs=2.5,anchor=center]{1721.7}{913.7}{Decrement intensity by 0.25mA}
\Tx[fs=2.5,anchor=center]{1721.7}{935.7}{Increment intensity by 0.25mA}
\MB{C8b}{1748.9}{871.7}
\Tx[fs=4.8]{1752.7}{893.7}{or \textcolor{cred}{T=xx,}}\Tx[fs=4.8]{1752.7}{899.7}{preset saved}
\Tx[fs=4.6]{1782.6}{861.3}{C9}
\Sc{C9}{1782.2}{866}{1831.6}{895.7}\IntC{1782.2}{866}{7}{5.50}{saved}
\Flow{C8}{C8b}{C9}
\Tx[fs=4.8,text=cred]{1835}{876}{T=2 sec}
\GT{C9g}{1858.7}{871}{1884.4}{888.7}{S3}{12}
\draw[conn,ar] (C9.east |- C9g.west) -- (C9g.west);
\DBt{C2d}{1331.4}{909.7}\UBt{C2u}{1357.8}{909.7}
\Tx[fs=4.6]{1333.7}{935}{C3}
\Sc{C3}{1335.6}{937.7}{1385.7}{970.7}
\Bld{1339}{945.3}\Tx[pp=5.2,text=cblue!80!black]{1343}{945.3}{current cal}\Bld{1339}{953}\Tx[pp=5.2,text=cblue!80!black]{1343}{953}{recalibrate}\Sel{1338.5}{960.7}\Tx[ppb=5.2,text=white]{1343}{960.7}{exit}
\VdB{C2}{C2d}{C3}{1349}
\VuB{C3}{C2u}{C2}{1370}
\MB{C3b}{1342.9}{976.7}
\GT{C3g}{1342.9}{1003.3}{1368.5}{1021}{S3}{12}
\VdB{C3}{C3b}{C3g}{1355.9}

%% ============ Therapy flow
\coordinate (Tin) at (1896,325);
\Nd{lbox}{S9box}{1908.4}{300.7}{2002.6}{346.3}{}
\NdW{holdb}{S9h}{1911.5}{316}{26}{18}{Main button\\hold T=xx}
\Tx[fs=4.2]{1949}{306.3}{S9}
\Sc{S9}{1947.5}{310.7}{1998}{340.7}
\Tx[pp=7,text=cdim!40!cblue]{1953}{319}{hold to}\Tx[ppb=6.4,text=white]{1969.5}{326}{start}
\HoldBar{1952}{333.5}{1}\DotGrid{1966}{333.5}{10}{1}{2}{1}{cblue}{1.1}
\Tx[fs=2.9]{1977.7}{343.3}{dot animation}
\NdW{warnb}{M1a}{2052}{316.7}{24.8}{17.6}{M1}
\NdW{note}{N1}{2067.2}{281.7}{36.4}{22.3}{Setting therapy ramp\\intensity from the patient.\\[.6pt]If down button is pressed during\\ramp, the ramp will stop and the\\therapy intensity screen will be\\shown.}
\Nd{lbox}{S10box}{2115.5}{306.3}{2231.8}{352}{}
\draw[tl] (Tin) -- (S9h.west |- Tin);
\draw[tl] (S9h.east |- Tin) -- (S9.west |- Tin);
\draw[tl] (S9.east |- Tin) -- (M1a.west |- Tin);
\draw[tl,tar] (M1a.east |- Tin) -- (S10box.west |- Tin);
\EC{Te2}{2016.3}{296.3}{E2}\EC{Te4}{2030}{296.3}{E4}
\draw[pk] (2016.3,323) -- (Te2.south);\draw[pk] (2030,323) -- (Te4.south);
\draw[conn] (2100.5,0 |- N1.south) -- (2100.5,323);
\Tx[fs=4.2]{2121.2}{311}{S10}\Tx[fs=4.2]{2178.2}{311}{S10\_A}
\Sc{S10}{2120}{314.3}{2169}{342.3}\Bat{2121.5}{316.8}
\Tx[ppb=11.5,anchor=center,text=white]{2142}{327}{:40}\Tx[pp=3.6,text=cblue]{2153}{330}{min}\Wdg{2168.5}{327}
\DotGrid{2122}{339}{22}{1}{2}{1}{cdim}{1}\DotGrid{2134}{339}{8}{1}{2}{1}{cblue}{1}\DotGrid{2150}{339}{8}{1}{2}{1}{white}{1.1}
\Sc{S10A}{2177.8}{314.3}{2227.2}{342.3}\Bat{2179.3}{316.8}
\Tx[ppb=11.5,anchor=center,text=white]{2198}{327}{:10}\Tx[pp=3.6,text=cblue]{2208}{330}{sec}\Wdg{2226.7}{327}
\DotGrid{2180}{339}{22}{1}{2}{1}{cdim}{1}\DotGrid{2192}{339}{8}{1}{2}{1}{cblue}{1}\DotGrid{2208}{339}{8}{1}{2}{1}{white}{1.1}
\draw[conn] (S10.east |- 0,325) -- (S10A.west |- 0,325);
\draw[conn] (S10.east |- 0,330.7) -- (S10A.west |- 0,330.7);
\Tx[fs=3]{2141.9}{355.3}{Prior to therapy countdown start,}\Tx[fs=3]{2141.9}{359.3}{animation with dots to indicate ramp}
\Tx[fs=2.9]{2208.8}{355}{dot animation}
\Tx[fs=4.2]{2140}{232.7}{S11}
\Sc{S11}{2149.5}{229.3}{2198.5}{258.3}\SetC{2149.5}{229.3}{5.00}{adjust}
\NdW{note}{N2}{2153.7}{156.3}{42.9}{20}{On adjustment press,\\change the intensity\\immediately. New intensity\\accepted with "MAIN" button\\press or time out}
\Tx[fs=2.7]{2161.4}{184}{Increment intensity by}\Tx[fs=2.7]{2161.4}{187.7}{0.25mA up to 5.0mA}
\Tx[fs=2.7]{2161.4}{208}{Decrement intensity by}\Tx[fs=2.7]{2161.4}{211.7}{0.25mA down to 0mA}
\UB{S11u}{2161.4}{190}\DB{S11d}{2161.4}{214}
\draw[conn,ar] (S11u.west) -| (2150.7,0 |- S11.north);
\draw[conn,ar] (S11u.east) -| (2197.4,0 |- S11.north);
\draw[conn,ar] (S11d.west) -| (2154.5,0 |- S11.north);
\draw[conn,ar] (S11d.east) -| (2193.5,0 |- S11.north);
\Tx[fs=3.8]{2210}{221.3}{If down button}\Tx[fs=3.8]{2210}{226}{pressed to 0.00}\Tx[fs=3.8]{2210}{230.7}{or Down button held}
\NdW{dnh}{S11h}{2211}{234}{25.8}{14.3}{Down button\\held}
\node[circle,box,draw=black!70,line width=.6,fill=white,minimum size=12pt,text=ctext,font={\fsz{5.2}}] (S13c) at (2256.4,241.3) {S13};
\draw[conn] (S11.east |- S11h.west) -- (S11h.west);
\draw[conn,ar] (S11h.east) -- (S13c.west);
\Tx[fs=2.9]{2137.3}{261.7}{dot animation}
\Tx[fs=2.9]{2169}{260.7}{displays}\Tx[fs=2.9]{2169}{264.7}{current}\Tx[fs=2.9]{2169}{268.7}{intensity}
\DBt{S10d}{2146.8}{274.7}\UBt{S10u}{2175.5}{274.7}\MB{S10b}{2203.5}{274.7}
\VuB{S10}{S10d}{S11}{2161.4}
\VuB{S10A}{S10u}{S11}{2188.6}
\draw[conn] (S11.east |- 0,255.7) -| (2207,0 |- S10b.north);
\draw[conn,ar] (2207,0 |- S10b.south) -- (2207,0 |- S10box.north);
\Tx[fs=3.8,text=cred]{2210.8}{261.7}{T=1 xx}\Tx[fs=3.8,text=cred]{2210.8}{266.3}{or}
%% S14
\Tx[fs=4.6]{2396}{282.7}{S14}
\Sc{S14}{2395.6}{287}{2445.3}{316.7}
\Tx[ppb=6,text=white]{2399}{297}{therapy}\Tx[ppb=6,text=cblue]{2410}{303.7}{complete}
\DotGrid{2398}{312.5}{22}{1}{2}{1}{white}{1.2}
\draw[tl,tar] (S10A.east |- 0,325) -- (2286.5,325) -- (2286.5,300.7) -- (S14.west |- 0,300.7);
\Tx[fs=3.2]{2406}{320}{Dots complete to white}
\AB{S14a}{2450}{291}
\Tx[fs=5,text=cred]{2453.8}{312}{Or T=xx}
%% S12
\Nd{lbox}{S12box}{2294.2}{327.7}{2384.5}{373.3}{}
\NdW{holdb}{S12h}{2297.3}{341}{26}{18}{Main button\\hold T=xx}
\Tx[fs=4.2]{2331.7}{331}{S12}
\Sc{S12}{2330.5}{334}{2381}{364}
\Tx[pp=6.5,text=cblue]{2346}{344}{hold to}\Tx[ppb=6.4,text=white]{2360}{350.5}{stop}
\HoldBar{2334}{357.3}{10}
\Tx[fs=2.9]{2360}{366}{dot animation}
\draw[conn] (S10A.east |- 0,330.7) -- (2286.5,330.7) |- (S12h.west);
\draw[conn] (S12h.east) -- (S12.west |- S12h.east);
\NdW{mainb}{S10c}{2239}{348.3}{26}{17.7}{Main button\\pressed}
\draw[conn] (S10A.east |- 0,336) -| (2253,0 |- S10c.north);
\Tx[fs=2.9]{2239.8}{368}{button press T=xx,}\Tx[fs=2.9]{2239.8}{371.7}{no change}
\Tx[fs=4.6]{2393.3}{329.7}{S13}
\Sc{S13}{2395.6}{334}{2445.3}{363.7}
\Tx[ppb=6,text=white]{2398.5}{344.3}{therapy}\Tx[ppb=6,text=cblue]{2414}{351}{stopped}
\DotGrid{2398}{359}{22}{1}{2}{1}{cblue}{1}\DotGrid{2426}{359}{8}{1}{2}{1}{white}{1.1}
\draw[conn,ar] (S12.east) -- (S13.west |- S12.east);
\Tx[fs=3.2]{2406}{366.7}{Show incomplete therapy}
\AB{S13a}{2450}{340}
\Tx[fs=5,text=cred]{2454.5}{360.3}{Or T=xx}
\NdW{warnb}{M1b}{2465.6}{317}{24.4}{18}{M1}
\draw[conn] (S14.east |- S14a.west) -- (S14a.west);
\draw[conn] (S13.east |- S13a.west) -- (S13a.west);
\draw[conn] (S14a.east) -| (2481.7,0 |- M1b.north);
\draw[conn] (S13a.east) -| (2481.7,0 |- M1b.south);
\NdW{anyb}{ENDg}{2499}{317}{20}{18}{}
\draw[conn,ar] (M1b.east) -- (ENDg.west |- M1b.east);
%% S10_B
\Tx[fs=4.2]{2077.2}{365.7}{S10\_B}\Tx[fs=3,text=cred]{2115}{366.3}{T=3sec}
\Sc{S10B}{2077.2}{368.7}{2125.8}{401}\Bat{2078.5}{371}
\Tx[ppb=12.5,anchor=center,text=cblue]{2101.5}{383.5}{11:00}\Tx[pp=5,anchor=center,text=cdim!50!cblue]{2113.5}{392.5}{am}
\Tx[fs=2.9]{2079}{402.5}{dot animation}
\AB{S10a}{2086.4}{407.7}
\Off{S10o}{2126.6}{421.7}
\Tx[fs=7,text=cred]{2132.3}{382.3}{T=xx}
\Vd{S10}{S10o}{2130}
\draw[conn] (S10.south west) -| (2112.4,0 |- S10B.north);
\draw[conn] (2112.4,0 |- S10B.south) |- (S10o.west);

%% ============ Measurement
\Tx[fs=13]{1933}{556.3}{Measurement}
\Nd{box,draw=corange,line width=1.4}{pMe}{1932.4}{563}{2444}{736.3}{}
\Tx[fs=4.6]{1982}{582}{M1}
\Sc{M1}{1981.3}{585.3}{2031}{617}
\Sel{1984.5}{601.5}\Tx[ppb=4.5,text=white]{1988.2}{598.3}{press main,}\Tx[ppb=4.5,text=white]{1988.2}{604.3}{hold position}
\MB{M1b1}{2039.5}{593.5}
\Tx[fs=4.6]{2091.5}{580.7}{M2}\Tx[fs=4.6]{2127.3}{580.7}{T=15s}
\Sc{M2}{2091.8}{584}{2141.4}{616}\HoldC{2091.8}{584}
\Flow{M1}{M1b1}{M2}
\EC{Me2}{2069.8}{581}{E2}\EC{Me4}{2080.8}{581}{E4}
\draw[pk] (2069.8,0 |- M1b1.east) -- (Me2.south);\draw[pk] (2080.8,0 |- M1b1.east) -- (Me4.south);
\Tx[fs=4.1]{2091.8}{620}{animate dots to}\Tx[fs=4.1]{2091.8}{625.3}{countdown 15sec}
\Tx[fs=4.6]{2178.3}{580.7}{M3}\Tx[fs=3.4]{2196.9}{580.7}{score 1-7}
\Sc{M3}{2178.3}{583.7}{2232.3}{615}
\DotGrid{2180.5}{589}{1}{8}{1}{2.7}{cblue}{1.1}
\Tx[pp=6.6,text=white]{2185.5}{599}{moderate}\Tx[pp=6.6,text=cblue]{2195}{606.3}{tremor}\PM{2226}{599.5}
\draw[conn,ar] (M2.east) -- (M3.west |- M2.east);
\MB{M3b}{2245.4}{592.3}
\GT{M3g}{2293.6}{592.3}{2319.1}{609.7}{Go to\\S10/S3}{6.3}
\Flow{M3}{M3b}{M3g}
\Tx[fs=2.8]{2295.3}{612.7}{If therapy not started, go to S10}\Tx[fs=2.8]{2295.3}{617}{If therapy completed or stopped,}\Tx[fs=2.8]{2295.3}{621.3}{go to S3}
\DB{M3d}{2194}{617.7}\UB{M3u}{2194}{645}
\Below{M3}{M3u}{M3d}{2187.6}{2226.5}{2183.8}{2230.6}
\Tx[fs=2.6]{2196.9}{634.3}{Decrement tremor}\Tx[fs=2.6]{2196.9}{637.7}{rating by 1 to 1}
\Tx[fs=2.6,anchor=center]{2207}{662.3}{Increment tremor rating by 1 to 7}
\Lst{2178.3}{2198.6}{673.3}{1.}{Normal}\Lst{2178.3}{2198.6}{681.7}{2.}{Hardly Perceptible}\Lst{2178.3}{2198.6}{690}{3.}{Mild}\Lst{2178.3}{2198.6}{698.3}{4.}{Moderate}\Lst{2178.3}{2198.6}{706.3}{5.}{Marked}\Lst{2178.3}{2198.6}{714.7}{6.}{Severe}\Lst{2178.3}{2198.6}{723}{7.}{Extreme}
\Tx[fs=5.2]{1954}{622.7}{Go to M1}
\AB{Mea}{1951.7}{626.7}
\Tx[fs=5.6]{1995}{626.7}{T=\textcolor{cred}{xx}}
\Off{Meo}{1988.9}{639}
\Vd{M1}{Meo}{1992.3}
\BackLoop{Meo}{1976.8}{610}{M1}

%% ============ Key
\Nd{panel}{pKey}{57.9}{798.3}{351.7}{985}{}
\Tx[fs=9.5]{60.4}{994}{Key}
\Nd{box,fill=black,draw=black!45,line width=.4}{k1}{66.5}{810.7}{115.5}{839.3}{}
\Tx[fs=5.8]{121}{818.3}{Any square shape}\Tx[fs=5.8]{121}{825.3}{indicates a screen}
\NdW{anyb}{k2}{188}{806.7}{25}{17.6}{}
\Tx[fs=3.9]{216}{815.3}{Any button pressed}
\Nd{box,fill=corange}{k3}{294.6}{810.7}{303.3}{819.3}{}
\Tx[fs=5.4]{306.8}{815}{Warnings}
\Nd{box,fill=cred}{k4}{294.6}{826.7}{303.3}{835.7}{}
\Tx[fs=5.4]{306.8}{831}{Errors}
\Nd{btn,draw=corange}{k5}{70.6}{850}{111.4}{868.7}{}
\Tx[fs=5.2]{121}{855.3}{Indicates a warning icon}
\NdW{holdb}{k6}{70.6}{880}{26.5}{17.7}{}
\Tx[fs=5.2]{103.8}{888.7}{Indicates Main Button hold}
\NdW{mainb}{k7}{70.6}{909}{26.5}{17.7}{}
\Tx[fs=5.2]{103.8}{917.7}{Indicates Main Button press}
\NdW{upb}{k8}{70.6}{935.7}{26.5}{14.6}{}
\Tx[fs=3.9]{104.8}{942}{Up button pressed}
\NdW{dnb}{k9}{70.6}{960.3}{26.5}{14.7}{}
\Tx[fs=3.9]{104.8}{968.3}{Down button pressed}

%% ============ Title block
\Nd{panel}{TB}{2070}{26}{2471}{120.7}{}
\Tx[font={\arifam\bfseries\fsz{11.5}},text=black!85]{2078.3}{37}{DD-0006 Cala Grande UI Flow, for Lovelace and Maxwell FW Releases}
\Tx[fs=5.8]{2080.7}{52.3}{Revision}\Tx[fs=5.8]{2126}{52.3}{DCO}\Tx[fs=5.8]{2178.7}{52.3}{Approval Date}\Tx[fs=5.8]{2240}{52.3}{Changes}
\draw[black!45,line width=.7] (TB.west |- 0,57.3) -- (TB.east |- 0,57.3);
\draw[black!45,line width=.7] (TB.west |- 0,70.3) -- (TB.east |- 0,70.3);
\Tx[font={\arifam\bfseries\fsz{5.5}},anchor=center]{2090.3}{63.3}{A}\Tx[font={\arifam\bfseries\fsz{5.5}}]{2126}{63.3}{DCO-00237}\Tx[fs=5.2]{2178.7}{63.3}{22 Sept 2017}\Tx[font={\arifam\fsz{4.2}}]{2241}{63.3}{Initial Release}
\Tx[font={\arifam\bfseries\fsz{5.5}},anchor=center]{2090.3}{77}{B}\Tx[font={\arifam\bfseries\fsz{5.5}}]{2125.7}{77}{DCO-00244}\Tx[font={\arifam\fsz{4.2}}]{2241}{77}{Initial Release}
\end{tikzpicture}
\end{document}
